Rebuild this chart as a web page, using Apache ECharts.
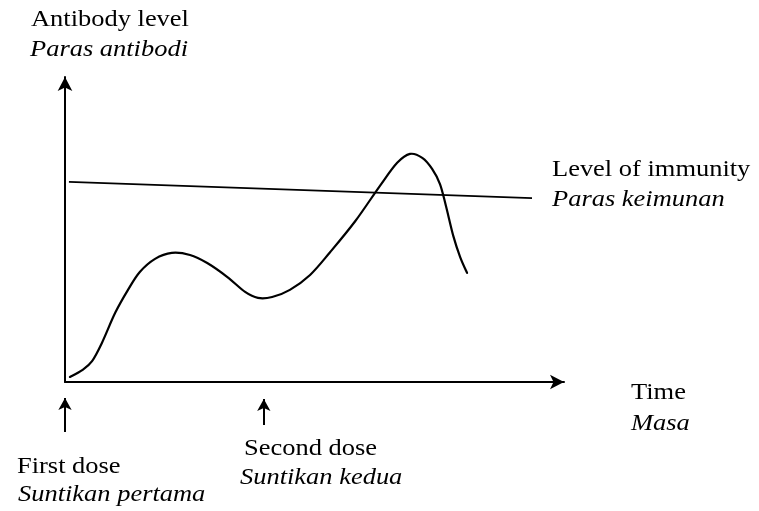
<!DOCTYPE html>
<html>
<head>
<meta charset="utf-8">
<script src="https://cdn.jsdelivr.net/npm/echarts@6/dist/echarts.min.js"></script>
<style>html,body{margin:0;padding:0;background:#fff}#c{width:759px;height:511px}</style>
</head>
<body>
<div id="c"></div>
<script>
// Antibody response curve (time, level)
const curveTime  = [1.0, 3.5, 5.5, 7.5, 10.2, 12.8, 15.2, 18.3, 21.7, 25.4, 28.9, 33.0, 36.6, 39.2, 42.1, 45.7, 49.8, 53.9, 59.0, 64.0, 67.5, 70.1, 72.6, 74.6, 76.2, 77.4, 78.9, 80.3, 81.7];
const curveLevel = [1.7, 4.0, 7.0, 13.1, 23.2, 30.9, 36.9, 41.3, 43.3, 42.6, 39.9, 35.2, 30.2, 28.2, 28.5, 30.9, 35.9, 43.6, 54.0, 65.8, 73.5, 76.5, 75.2, 71.5, 66.4, 59.1, 49.0, 41.9, 36.6];
// Level of immunity line (drawn slightly slanted as in the picture)
const immunityTime  = [0.8, 94.9];
const immunityLevel = [67.1, 61.7];
// Dose events
const doseTime = [0, 40.4];
const doseLabels = [['First dose', 'Suntikan pertama'], ['Second dose', 'Suntikan kedua']];
const axisLabels = { y: ['Antibody level', 'Paras antibodi'], x: ['Time', 'Masa'], immunity: ['Level of immunity', 'Paras keimunan'] };

const chart = echarts.init(document.getElementById('c'), null, { renderer: 'canvas' });
const FONT = '"Liberation Serif", "Times New Roman", serif';
const SX = 1.15;
function txt(str, x, y, italic) {
  return {
    type: 'text', x: x, y: y, scaleX: SX, silent: true,
    style: { text: str, x: 0, y: 0, fill: '#000', font: (italic ? 'italic ' : '') + '23px ' + FONT, textAlign: 'left', textVerticalAlign: 'middle' }
  };
}
const hiddenAxis = { type: 'value', min: 0, max: 100, show: false };

// Smooth curve through the data points (Catmull-Rom), positions from the axis scales
function renderCurve(params, api) {
  if (params.dataIndex !== 0) return null;
  const pts = curveTime.map((t, i) => api.coord([t, curveLevel[i]]));
  let d = 'M' + pts[0][0] + ',' + pts[0][1];
  for (let i = 0; i < pts.length - 1; i++) {
    const p0 = pts[i - 1] || pts[i], p1 = pts[i], p2 = pts[i + 1], p3 = pts[i + 2] || pts[i + 1];
    const c1x = p1[0] + (p2[0] - p0[0]) / 6, c1y = p1[1] + (p2[1] - p0[1]) / 6;
    const c2x = p2[0] - (p3[0] - p1[0]) / 6, c2y = p2[1] - (p3[1] - p1[1]) / 6;
    d += ' C' + c1x + ',' + c1y + ' ' + c2x + ',' + c2y + ' ' + p2[0] + ',' + p2[1];
  }
  return { type: 'path', shape: { pathData: d }, style: { stroke: '#000', fill: null, lineWidth: 2.2, lineJoin: 'round', lineCap: 'round' } };
}

const option = {
  animation: false,
  backgroundColor: '#fff',
  grid: [
    { left: 65, right: 195, top: 77, bottom: 129, containLabel: false },
    { left: 65, right: 195, top: 385, height: 50, containLabel: false }
  ],
  xAxis: [
    {
      type: 'value', min: 0, max: 101.4, gridIndex: 0,
      axisLine: { show: true, onZero: false, symbol: ['none', 'arrow'], symbolSize: [11, 14], lineStyle: { color: '#000', width: 2 } },
      axisTick: { show: false }, axisLabel: { show: false }, splitLine: { show: false }
    },
    Object.assign({}, hiddenAxis, { gridIndex: 1, max: 101.4 })
  ],
  yAxis: [
    {
      type: 'value', min: 0, max: 102.3, gridIndex: 0,
      axisLine: { show: true, onZero: false, symbol: ['none', 'arrow'], symbolSize: [11, 14], lineStyle: { color: '#000', width: 2 } },
      axisTick: { show: false }, axisLabel: { show: false }, splitLine: { show: false }
    },
    Object.assign({}, hiddenAxis, { gridIndex: 1 })
  ],
  series: [
    {
      type: 'custom', name: 'Antibody level', silent: true, clip: false,
      data: curveTime.map((t, i) => [t, curveLevel[i]]),
      encode: { x: 0, y: 1 },
      renderItem: renderCurve
    },
    {
      type: 'line', name: 'Level of immunity', showSymbol: false, silent: true,
      data: immunityTime.map((t, i) => [t, immunityLevel[i]]),
      lineStyle: { color: '#000', width: 1.8 }
    },
    {
      type: 'line', name: 'Doses', xAxisIndex: 1, yAxisIndex: 1, silent: true, clip: false,
      showSymbol: false, symbol: 'none',
      data: doseTime.map(t => [t, 0]),
      lineStyle: { width: 0, opacity: 0 },
      markLine: {
        silent: true, symbol: ['none', 'arrow'], symbolSize: [10, 12],
        label: { show: false },
        lineStyle: { color: '#000', width: 2, type: 'solid' },
        data: [
          [{ coord: [doseTime[0], 6] }, { coord: [doseTime[0], 74] }],
          [{ coord: [doseTime[1], 20] }, { coord: [doseTime[1], 72] }]
        ]
      }
    }
  ],
  graphic: [
    txt(axisLabels.y[0], 31, 20, false),
    txt(axisLabels.y[1], 30, 50, true),
    txt(axisLabels.immunity[0], 552, 170, false),
    txt(axisLabels.immunity[1], 552, 200, true),
    txt(axisLabels.x[0], 631, 393, false),
    txt(axisLabels.x[1], 631, 424, true),
    txt(doseLabels[0][0], 17, 467, false),
    txt(doseLabels[0][1], 18, 495, true),
    txt(doseLabels[1][0], 244, 449, false),
    txt(doseLabels[1][1], 240, 478, true)
  ]
};
chart.setOption(option);
</script>
</body>
</html>
